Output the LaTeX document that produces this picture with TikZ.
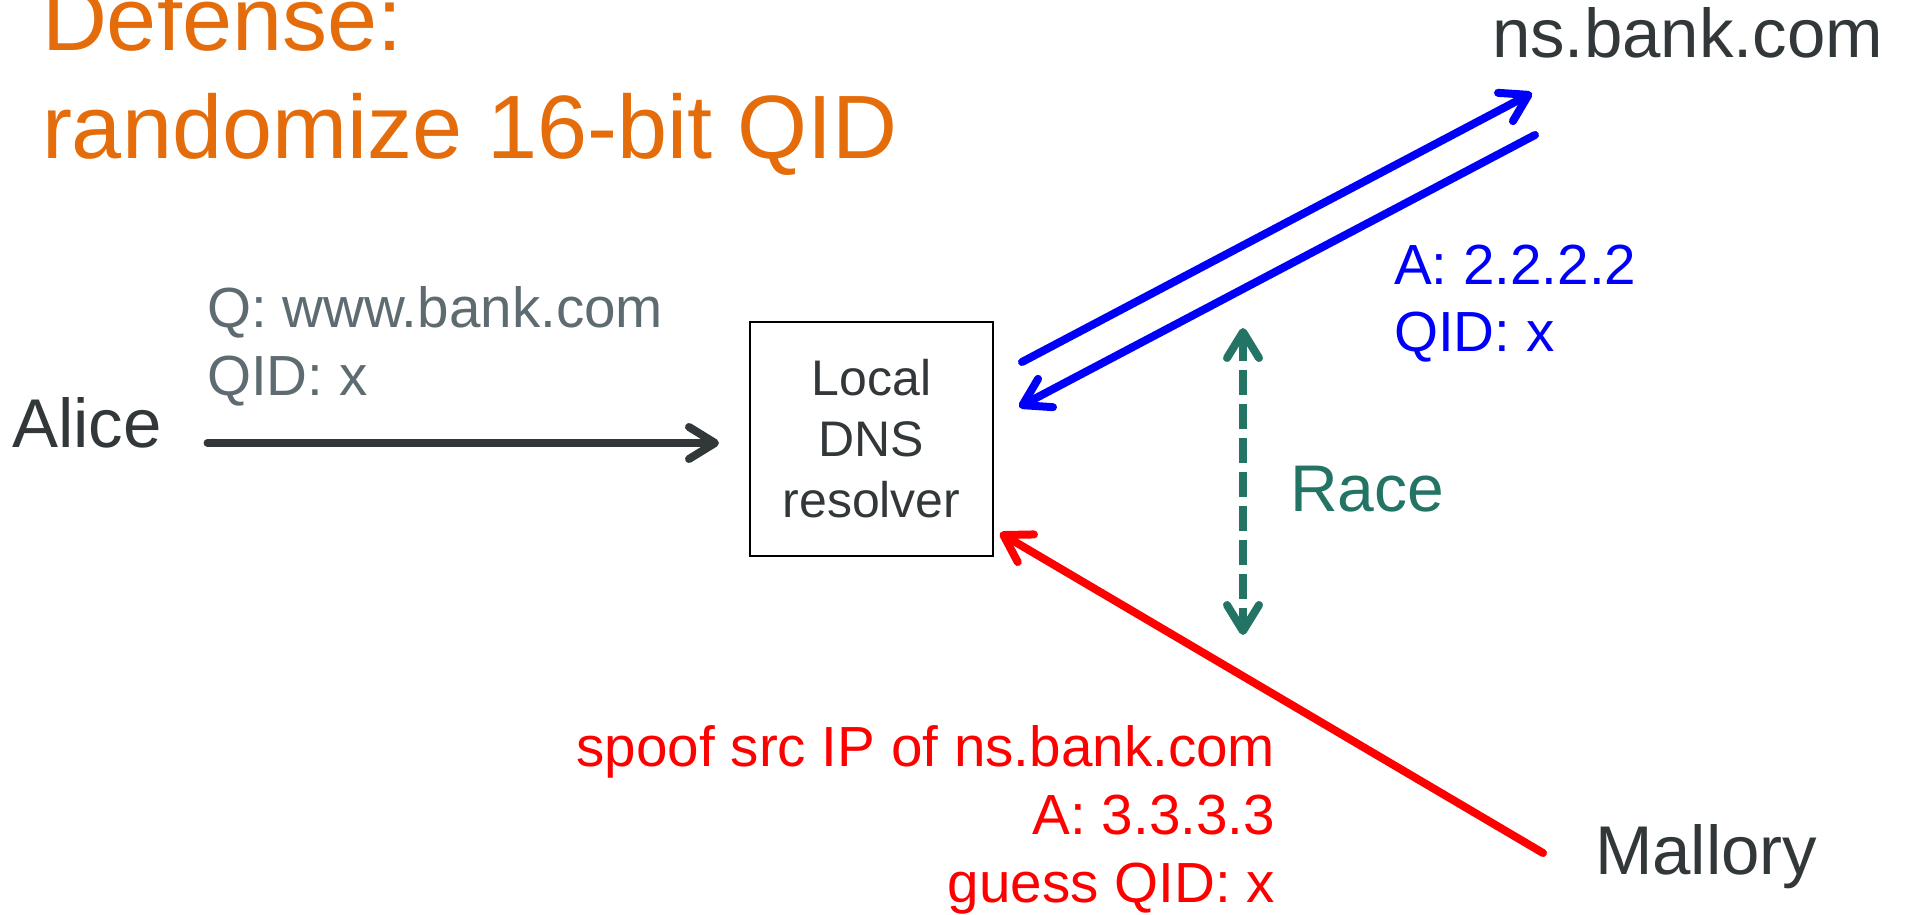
\documentclass[tikz,border=0pt]{standalone}
\usepackage{fontspec}
\setmainfont{Liberation Sans}
\usetikzlibrary{arrows.meta}

\definecolor{titleorange}{RGB}{228,108,10}
\definecolor{labelgrey}{RGB}{94,108,114}
\definecolor{inkdark}{RGB}{50,56,58}
\definecolor{racegreen}{RGB}{35,116,101}
\definecolor{answerblue}{RGB}{0,0,250}
\definecolor{spoofred}{RGB}{255,0,0}

\begin{document}
\begin{tikzpicture}[x=0.5pt,y=-0.5pt,
  every node/.style={inner sep=0pt, outer sep=0pt},
  hostlabel/.style={anchor=base west, text=inkdark, font=\fontsize{34.5}{41}\selectfont},
  msg/.style={font=\fontsize{28.3}{33.5}\selectfont},
  barb/.style={Straight Barb[length=13pt,width=16pt,round]},
  flow/.style={line width=4pt, line cap=round, -{Straight Barb[length=13pt,width=16pt,round]}},
  racearrow/.style={line width=4pt, line cap=butt, dash pattern=on 12.5pt off 4.5pt,
    {Straight Barb[length=13pt,width=16pt,round]}-{Straight Barb[length=13pt,width=16pt,round]}},
]
\useasboundingbox (0,0) rectangle (1908,915);

% heading
\node[anchor=base west, text=titleorange, font=\fontsize{45}{54}\selectfont] (title) at (42,51)
  {\begin{tabular}[t]{@{}l@{}}Defense:\\randomize 16-bit QID\end{tabular}};

% hosts
\node[hostlabel] (alice) at (12,447) {Alice};
\node[hostlabel] (ns) at (1492,58) {ns.bank.com};
\node[hostlabel] (mallory) at (1595,874) {Mallory};

% resolver box
\node[draw=black, line width=1pt, minimum width=121.5pt, minimum height=117pt,
      align=center, text=inkdark, font=\fontsize{25}{30.5}\selectfont] (resolver) at (871.5,439)
  {Local\\DNS\\resolver};

% message labels
\node[anchor=base west, text=labelgrey, msg] (query) at (207,328)
  {\begin{tabular}[t]{@{}l@{}}Q: www.bank.com\\QID: x\end{tabular}};
\node[anchor=base west, text=answerblue, msg] (answer) at (1394,285)
  {\begin{tabular}[t]{@{}l@{}}A: 2.2.2.2\\QID: x\end{tabular}};
\node[anchor=base east, text=spoofred, font=\fontsize{28.3}{34}\selectfont] (spoof) at (1275,766)
  {\begin{tabular}[t]{@{}r@{}}spoof src IP of ns.bank.com\\A: 3.3.3.3\\guess QID: x\end{tabular}};
\node[anchor=base west, text=racegreen, font=\fontsize{33}{40}\selectfont] (race) at (1290,511) {Race};

% query from Alice
\draw[flow, inkdark, shorten <=23pt, shorten >=15.5pt]
  ([yshift=2pt]alice.base east) -- ([yshift=-2pt]resolver.west);

% resolver <-> authoritative server
\draw[flow, answerblue] ([shift={(29,-77)}]resolver.east) -- ([shift={(40,35)}]ns.base west);
\draw[flow, answerblue] ([shift={(43,77)}]ns.base west) -- ([shift={(26,-32)}]resolver.east);

% spoofed reply
\draw[flow, spoofred] ([shift={(-52,-21)}]mallory.base west) -- ([shift={(7,-23)}]resolver.south east);

% race between the two replies
\draw[racearrow, racegreen] ([shift={(-47,-183)}]race.base west) -- ([shift={(-47,124)}]race.base west);
\end{tikzpicture}
\end{document}
